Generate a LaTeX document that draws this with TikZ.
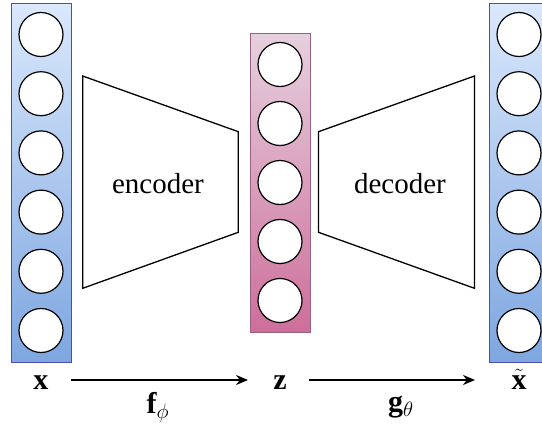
\documentclass[tikz,border=0pt]{standalone}
\usepackage{fontspec}
\setmainfont{Liberation Serif}
\usetikzlibrary{arrows.meta}
\begin{document}
\begin{tikzpicture}[x=1pt,y=-1pt,
  bluecol/.style={draw=blue!40!gray, line width=0.8pt, top color={rgb,255:red,218;green,232;blue,252}, bottom color={rgb,255:red,126;green,166;blue,224}, minimum width=60pt, minimum height=359pt, inner sep=0pt},
  pinkcol/.style={draw={rgb,255:red,153;green,97;blue,133}, line width=0.8pt, top color={rgb,255:red,230;green,208;blue,222}, bottom color={rgb,255:red,205;green,110;blue,154}, minimum width=60pt, minimum height=299pt, inner sep=0pt},
  neuron/.style={circle, draw=black, fill=white, line width=1.2pt, minimum size=44pt, inner sep=0pt},
  trap/.style={draw=black, line width=1.3pt, fill=white},
  lbl/.style={font=\fontsize{29}{32}\selectfont},
  mlbl/.style={font=\fontsize{30}{34}\selectfont, inner sep=0pt, anchor=base},
  arr/.style={-{Stealth[length=12pt,width=10pt]}, line width=1.5pt}
]
\useasboundingbox (0,0) rectangle (542,426);
% columns
\node[bluecol] (colx) at (41,182.5) {};
\node[pinkcol] (colz) at (280,182.5) {};
\node[bluecol] (coly) at (519,182.5) {};
% neurons
\foreach \i/\yy in {1/34.5,2/93.7,3/152.9,4/212.1,5/271.3,6/330.5}{
  \node[neuron] (x\i) at (41,\yy) {};
  \node[neuron] (y\i) at (519,\yy) {};
}
\foreach \i/\yy in {1/64.5,2/123.5,3/182.5,4/241.5,5/300.5}{
  \node[neuron] (z\i) at (280,\yy) {};
}
% encoder / decoder
\draw[trap] (82.7,76) -- (238.3,131.7) -- (238.3,232.3) -- (82.7,288.3) -- cycle;
\draw[trap] (318.5,131.7) -- (474.5,76) -- (474.5,288.3) -- (318.5,232.3) -- cycle;
\node[lbl] (enc) at (158,184) {encoder};
\node[lbl] (dec) at (400,184) {decoder};
% bottom labels
\node[mlbl] (lx) at (41,389) {$\mathbf{x}$};
\node[mlbl] (lz) at (280,389) {$\mathbf{z}$};
\node[mlbl] (ly) at (519,389) {$\tilde{\mathbf{x}}$};
\draw[arr] (71,380) -- (248,380);
\draw[arr] (309,380) -- (475,380);
\node[mlbl] (f) at (158,413) {$\mathbf{f}_\phi$};
\node[mlbl] (g) at (401,411) {$\mathbf{g}_\theta$};
\end{tikzpicture}
\end{document}
